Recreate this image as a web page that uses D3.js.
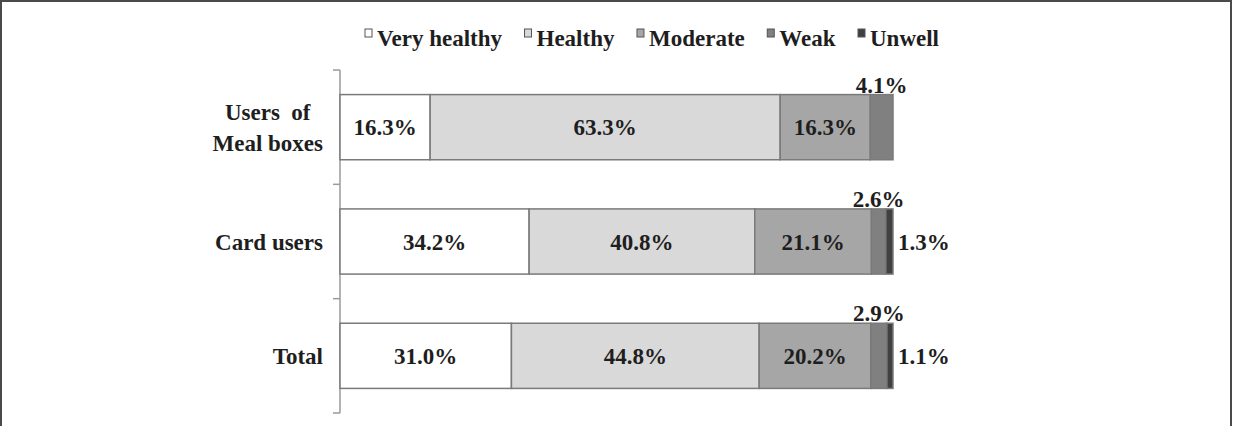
<!DOCTYPE html>
<html>
<head>
<meta charset="utf-8">
<script src="https://cdn.jsdelivr.net/npm/d3@7"></script>
<style>
  body { margin: 0; background: #fff; }
  text { font-family: "Liberation Serif", "DejaVu Serif", serif; fill: #1e1e1e; }
</style>
</head>
<body>
<div id="chart"></div>
<script>
// data
const categories = ["Users  of|Meal boxes", "Card users", "Total"];
const seriesNames = ["Very healthy", "Healthy", "Moderate", "Weak", "Unwell"];
const veryHealthy = [16.3, 34.2, 31.0];
const healthy = [63.3, 40.8, 44.8];
const moderate = [16.3, 21.1, 20.2];
const weak = [4.1, 2.6, 2.9];
const unwell = [0, 1.3, 1.1];
const colors = ["#ffffff", "#d9d9d9", "#a6a6a6", "#808080", "#404040"];

const W = 1235, H = 426;
const fs = 23;
const svg = d3.select("#chart").append("svg")
  .attr("width", W).attr("height", H);

// outer frame
svg.append("rect")
  .attr("x", 1).attr("y", 1).attr("width", 1230).attr("height", 440)
  .attr("fill", "none").attr("stroke", "#4a4a4a").attr("stroke-width", 2);

const rows = categories.map((c, i) => ({
  cat: c, vals: [veryHealthy[i], healthy[i], moderate[i], weak[i], unwell[i]]
}));

const stack = d3.stack().keys([0, 1, 2, 3, 4]).value((d, k) => d.vals[k]);
const layers = stack(rows);

const x = d3.scaleLinear().domain([0, 100]).range([340, 893]);
const y = d3.scaleBand().domain(categories).range([70, 413])
  .paddingInner(0.43).paddingOuter(0.215);

// axis line with ticks at band edges
const axis = svg.append("g").attr("stroke", "#9a9a9a").attr("stroke-width", 1.5);
axis.append("line").attr("x1", 340).attr("x2", 340)
  .attr("y1", y.range()[0]).attr("y2", y.range()[1]);
d3.range(categories.length + 1).forEach(i => {
  const yy = y.range()[0] + i * y.step();
  axis.append("line").attr("x1", 333).attr("x2", 340).attr("y1", yy).attr("y2", yy);
});

// bars
const g = svg.append("g");
layers.forEach((layer, k) => {
  g.selectAll(null).data(layer.filter(d => d[1] > d[0])).join("rect")
    .attr("x", d => x(d[0]))
    .attr("y", d => y(d.data.cat))
    .attr("width", d => x(d[1]) - x(d[0]))
    .attr("height", y.bandwidth())
    .attr("fill", colors[k])
    .attr("stroke", "#7a7a7a")
    .attr("stroke-width", 1.5);
});

// value labels
const fmt = v => v.toFixed(1) + "%";
layers.forEach((layer, k) => {
  layer.forEach(d => {
    const v = d[1] - d[0];
    if (v <= 0) return;
    const cy = y(d.data.cat) + y.bandwidth() / 2;
    const t = svg.append("text")
      .attr("font-size", fs).attr("font-weight", "bold")
      .text(fmt(v));
    if (k === 3) {
      t.attr("x", x((d[0] + d[1]) / 2)).attr("y", y(d.data.cat) - 2)
        .attr("text-anchor", "middle");
    } else if (k === 4) {
      t.attr("x", x(d[1]) + 5).attr("y", cy).attr("dy", "0.35em")
        .attr("text-anchor", "start");
    } else {
      t.attr("x", x((d[0] + d[1]) / 2)).attr("y", cy).attr("dy", "0.35em")
        .attr("text-anchor", "middle");
    }
  });
});

// category labels
categories.forEach(c => {
  const lines = c.split("|");
  const cy = y(c) + y.bandwidth() / 2;
  const t = svg.append("text").attr("font-size", fs).attr("font-weight", "bold")
    .attr("xml:space", "preserve");
  lines.forEach((ln, i) => {
    t.append("tspan").attr("x", 0)
      .attr("y", cy + (i - (lines.length - 1) / 2) * 31)
      .attr("dy", "0.35em").text(ln);
  });
  const wmax = d3.max(t.selectAll("tspan").nodes(), n => n.getComputedTextLength());
  t.attr("text-anchor", "middle");
  t.selectAll("tspan").attr("x", 323 - wmax / 2);
});

// legend
let lx = 365;
const ly = 46;
seriesNames.forEach((s, k) => {
  svg.append("rect").attr("x", lx).attr("y", ly - 17).attr("width", 7).attr("height", 8)
    .attr("fill", colors[k]).attr("stroke", "#555").attr("stroke-width", 1);
  const t = svg.append("text").attr("x", lx + 12).attr("y", ly)
    .attr("font-size", fs).attr("font-weight", "bold").text(s);
  lx += 12 + t.node().getComputedTextLength() + 22.5;
});
</script>
</body>
</html>
